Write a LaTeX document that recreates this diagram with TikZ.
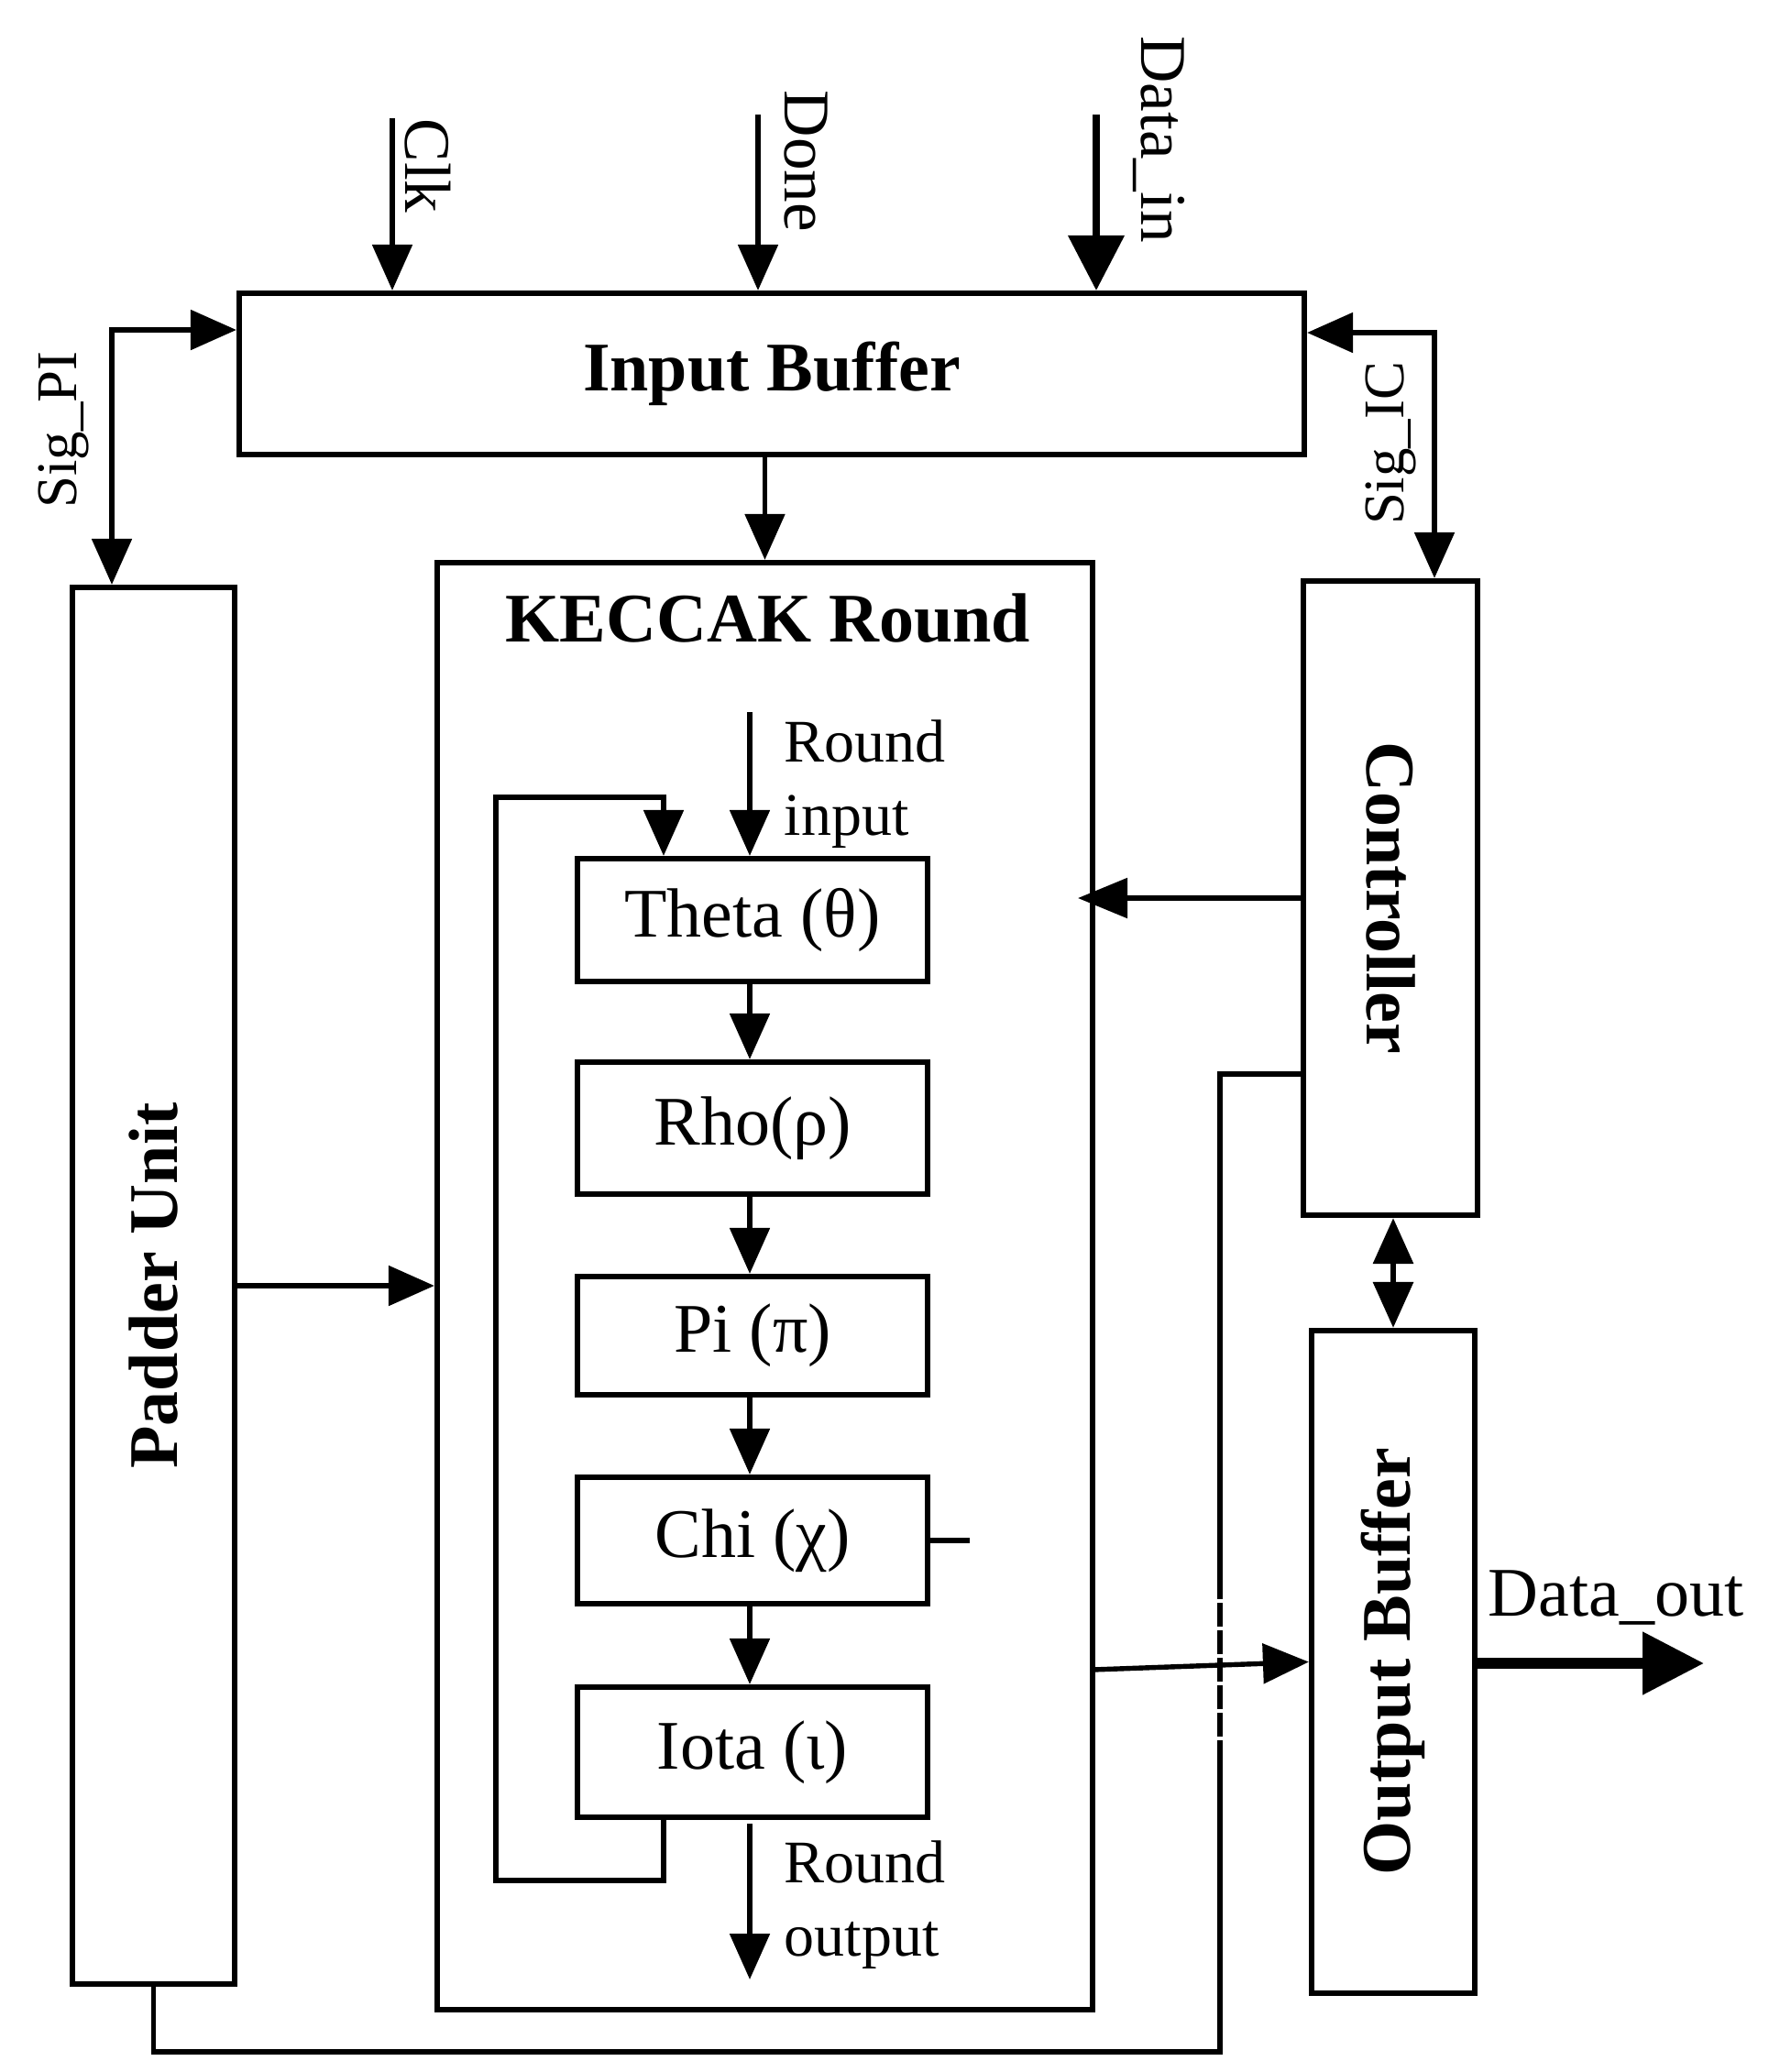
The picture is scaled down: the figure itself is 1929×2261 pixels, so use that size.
\documentclass[tikz,border=0pt]{standalone}
\usepackage{fontspec}
\setmainfont{Liberation Serif}
\usetikzlibrary{arrows.meta,fit}
\newcommand\myfont{\fontsize{19}{21}\selectfont}
\newcommand\mysmfont{\fontsize{16.5}{20}\selectfont}
\newcommand\mysigfont{\fontsize{15.7}{18}\selectfont}
\newcommand\mytopfont{\fontsize{17.8}{20}\selectfont}
\newcommand\mybfont{\fontsize{19}{22}\selectfont\bfseries}
\tikzset{
  box/.style={draw, line width=1.55pt, inner sep=0pt},
  wire/.style={line width=1.35pt},
  tipA/.tip={Triangle[length=12.5pt,width=10.75pt]},
  arr/.style={wire, -tipA},
  darr/.style={wire, tipA-tipA},
  txt/.style={font=\myfont, inner sep=0pt},
  stxt/.style={font=\mysmfont, inner sep=0pt},
  sigtxt/.style={font=\mysigfont, inner sep=0pt},
  toptxt/.style={font=\mytopfont, inner sep=0pt},
  btxt/.style={font=\mybfont, inner sep=0pt},
}
\begin{document}
\begin{tikzpicture}[x=0.25pt,y=-0.25pt]
\useasboundingbox (0,0) rectangle (1929,2261);
% boxes
\node[box, fit={(261,320) (1423,496)}, label={[btxt]center:Input Buffer}] (ib) {};
\node[box, fit={(477,614) (1192,2193)}] (kr) {};
\node[btxt, anchor=base] (krl) at (838,700) {KECCAK Round};
\node[box, fit={(79,641) (256,2165)}, label={[btxt,rotate=90]center:Padder Unit}] (pu) {};
\node[box, fit={(1422,634) (1612,1326)}, label={[btxt,rotate=-90]center:Controller}] (ct) {};
\node[box, fit={(1431,1452) (1609,2175)}, label={[btxt,rotate=90]center:Output Buffer}] (ob) {};
\node[box, fit={(630,937) (1012,1071)}, label={[txt]center:Theta (θ)}] (th) {};
\node[box, fit={(630,1159) (1012,1303)}, label={[txt]center:Rho(ρ)}] (rh) {};
\node[box, fit={(630,1393) (1012,1522)}, label={[txt]center:Pi (π)}] (pi) {};
\node[box, fit={(630,1612) (1012,1750)}, label={[txt]center:Chi (χ)}] (ch) {};
\node[box, fit={(630,1841) (1012,1983)}, label={[txt]center:Iota (ι)}] (io) {};
% top inputs
\coordinate (clk) at (428,129);
\coordinate (done) at (827,125);
\coordinate (din) at (1196,125);
\draw[arr] (clk) -- (clk |- ib.north);
\draw[arr] (done) -- (done |- ib.north);
\draw[line width=1.9pt, -{Triangle[length=15pt,width=15pt]}] (din) -- (din |- ib.north);
\node[toptxt, rotate=-90] (clkl) at (467,181) {Clk};
\node[toptxt, rotate=-90] (donel) at (879,176) {Done};
\node[toptxt, rotate=-90] (dinl) at (1264,152) {Data\_in};
% Sig_PI, Sig_IC
\coordinate (spi) at (122,360);
\coordinate (sic) at (1565,363);
\draw[darr] (pu.north -| spi) -- (spi) -- (ib.west |- spi);
\draw[darr] (ct.north -| sic) -- (sic) -- (ib.east |- sic);
\node[sigtxt, rotate=90] (spil) at (69,469) {Sig\_PI};
\node[sigtxt, rotate=90] (sicl) at (1517,484) {Sig\_IC};
% input buffer -> keccak
\draw[arr] (kr.north |- ib.south) -- (kr.north);
% round chain
\coordinate (rin) at (818,777);
\draw[arr] (rin) -- (rin |- th.north);
\node[stxt, anchor=north west, align=left] (rinl) at (855,785) {Round\\input};
\draw[arr] (th.south -| rin) -- (rh.north -| rin);
\draw[arr] (rh.south -| rin) -- (pi.north -| rin);
\draw[arr] (pi.south -| rin) -- (ch.north -| rin);
\draw[arr] (ch.south -| rin) -- (io.north -| rin);
\coordinate (rout) at (818,2160);
\coordinate (rout0) at (818,1990);
\draw[arr] (rout0) -- (rout);
\node[stxt, anchor=north west, align=left] (routl) at (855,2008) {Round\\output};
% feedback loop
\coordinate (fb) at (724,2052);
\coordinate (fbl) at (541,2052);
\coordinate (fbt) at (541,870);
\coordinate (fbr) at (724,870);
\draw[arr] (io.south -| fb) -- (fb) -- (fbl) -- (fbt) -- (fbr) -- (fbr |- th.north);
% chi stub
\coordinate (chs) at (1058,1681);
\draw[wire] (ch.east) -- (chs |- ch.east);
% padder -> keccak, controller -> keccak
\draw[arr] (pu.east) -- (kr.west |- pu.east);
\coordinate (ctk) at (1176,980);
\draw[wire, -{Triangle[length=13.5pt,width=10.75pt]}] (ct.west) -- (ctk);
% controller <-> output buffer
\draw[wire, line width=1.6pt, tipA-tipA] (ct.south -| ob.north) -- (ob.north);
% keccak -> output buffer
\coordinate (ko) at (1192,1822);
\draw[arr] (ko) -- (ob.west);
% data out
\coordinate (dout) at (1859,1815);
\draw[line width=2.9pt, -{Triangle[length=16.75pt,width=16.5pt]}] (ob.east |- dout) -- (dout);
\node[txt, anchor=base west] (doutl) at (1623,1763) {Data\_out};
% bottom loop
\coordinate (lb1) at (167.5,2239);
\coordinate (lb2) at (1331,2239);
\coordinate (lb3) at (1331,1172);
\draw[wire] (pu.south) -- (lb1) -- (lb2) -- (lb3) -- (ct.west |- lb3);
\coordinate (g1) at (1331,1745);
\coordinate (g2) at (1331,1913);
\draw[white, line width=2pt, dash pattern=on 1pt off 6.5pt] (g1) -- (g2);
\end{tikzpicture}
\end{document}
